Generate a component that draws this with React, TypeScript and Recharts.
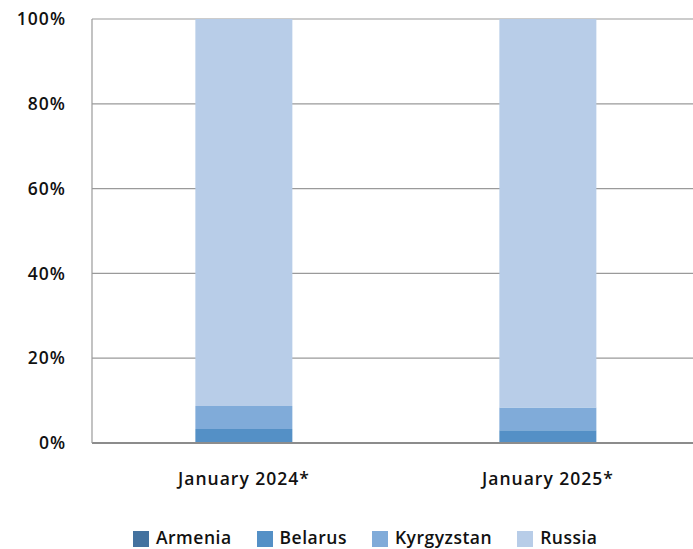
import React from "react"
import { Bar, BarChart, CartesianGrid, Legend, XAxis, YAxis } from "recharts"

const categories = ["January 2024*", "January 2025*"]
const seriesNames = ["Armenia", "Belarus", "Kyrgyzstan", "Russia"]
const armenia = [0.1, 0.1]
const belarus = [3.2, 2.9]
const kyrgyzstan = [5.4, 5.4]
const russia = [91.3, 91.6]
const yTicks = [0, 20, 40, 60, 80, 100]

const colors = ["#44729f", "#5490c6", "#80abd9", "#b8cde8"]
const seriesValues = [armenia, belarus, kyrgyzstan, russia]

const data = categories.map((name, i) => {
  const row: Record<string, string | number> = { name }
  seriesNames.forEach((s, j) => {
    row[s] = seriesValues[j][i]
  })
  return row
})

const font = "'Open Sans', sans-serif"
const textStyle = {
  fill: "#111",
  fontSize: 17.5,
  fontWeight: 600,
  fontFamily: font,
  letterSpacing: 1,
}

function LegendContent() {
  return (
    <div
      style={{
        display: "flex",
        justifyContent: "flex-start",
        alignItems: "flex-end",
        boxSizing: "border-box",
        height: 40,
        paddingBottom: 2,
        paddingLeft: 133,
        fontFamily: font,
        fontWeight: 600,
        fontSize: 17.5,
        lineHeight: "20px",
        letterSpacing: 0.5,
        color: "#111",
      }}
    >
      {seriesNames.map((s, i) => (
        <div key={s} style={{ display: "flex", alignItems: "center", marginRight: 25 }}>
          <span
            style={{
              display: "inline-block",
              width: 16,
              height: 16,
              background: colors[i],
              marginRight: 7,
              marginTop: 3,
            }}
          />
          <span>{s}</span>
        </div>
      ))}
    </div>
  )
}

export default function App() {
  return (
    <div style={{ position: "absolute", left: 0, top: 0 }}>
      <BarChart
        width={693}
        height={549}
        data={data}
        margin={{ top: 19, right: -7, bottom: 0, left: 0 }}
        barCategoryGap="34%"
      >
        <CartesianGrid vertical={false} stroke="#9a9a9a" strokeWidth={1.2} />
        <XAxis
          dataKey="name"
          height={66}
          tickLine={false}
          axisLine={{ stroke: "#8c8c8c", strokeWidth: 2 }}
          tickMargin={24}
          tick={textStyle}
        />
        <YAxis
          width={92}
          domain={[0, 100]}
          ticks={yTicks}
          tickFormatter={(v) => `${v}%`}
          tickLine={false}
          tickSize={0}
          tickMargin={26}
          axisLine={{ stroke: "#9a9a9a", strokeWidth: 1.2 }}
          tick={textStyle}
        />
        <Legend verticalAlign="bottom" height={40} content={<LegendContent />} />
        {seriesNames.map((s, i) => (
          <Bar key={s} dataKey={s} stackId="a" fill={colors[i]} isAnimationActive={false} />
        ))}
      </BarChart>
    </div>
  )
}
